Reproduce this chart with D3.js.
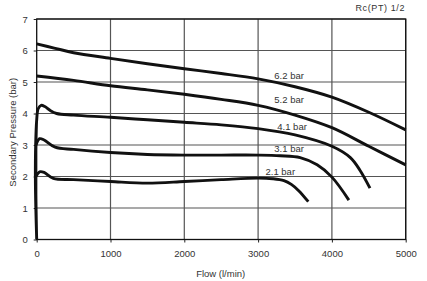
<!DOCTYPE html>
<html>
<head>
<meta charset="utf-8">
<script src="https://cdn.jsdelivr.net/npm/d3@7"></script>
<style>
  body { margin: 0; background: #fff; }
  svg text { font-family: "Liberation Sans", Arial, sans-serif; fill: #333; }
</style>
</head>
<body>
<div id="chart"></div>
<script>
// curves: [flow (l/min), secondary pressure (bar)]
const curve62 = [[0, 6.21], [250, 6.07], [500, 5.93], [1000, 5.75], [1500, 5.58], [2000, 5.42], [2500, 5.27],
  [3000, 5.1], [3500, 4.85], [4000, 4.52], [4500, 4.04], [5000, 3.48]];
const curve52 = [[0, 5.19], [500, 5.05], [1000, 4.88], [1500, 4.75], [2000, 4.61], [2500, 4.45], [3000, 4.26],
  [3500, 3.95], [4000, 3.55], [4500, 2.96], [5000, 2.37]];
const curve41 = [[0, 0], [-12, 1], [-18, 2], [-14, 3], [0, 3.8], [20, 4.15], [60, 4.26], [110, 4.22], [180, 4.1],
  [270, 4.0], [500, 3.95], [1000, 3.88], [1500, 3.8], [2000, 3.72], [2500, 3.64], [3000, 3.52], [3500, 3.32],
  [4000, 2.96], [4250, 2.6], [4380, 2.2], [4516, 1.63]];
const curve31 = [[-10, 3.0], [40, 3.2], [100, 3.16], [250, 2.93], [500, 2.86], [1000, 2.76], [1500, 2.7],
  [2000, 2.68], [2500, 2.68], [3000, 2.68], [3300, 2.66], [3570, 2.6], [3800, 2.37], [4000, 1.98], [4230, 1.25]];
const curve21 = [[-12, 2.0], [40, 2.15], [100, 2.13], [225, 1.94], [500, 1.9], [1000, 1.84], [1500, 1.79],
  [2000, 1.84], [2500, 1.9], [3000, 1.95], [3200, 1.93], [3350, 1.87], [3450, 1.75], [3550, 1.55], [3680, 1.2]];

const curveLabels = ['6.2 bar', '5.2 bar', '4.1 bar', '3.1 bar', '2.1 bar'];
// where each label sits, in data units
const labelPos = [[3220, 5.11], [3220, 4.32], [3260, 3.49], [3220, 2.79], [3100, 2.04]];

const xTicks = [0, 1000, 2000, 3000, 4000, 5000];
const yTicks = [0, 1, 2, 3, 4, 5, 6, 7];

const W = 427, H = 281;
const margin = { top: 19, right: 21.3, bottom: 41.5, left: 36.7 };
const width = W - margin.left - margin.right;
const height = H - margin.top - margin.bottom;

const svg = d3.select('#chart').append('svg')
  .attr('width', W)
  .attr('height', H);

const g = svg.append('g')
  .attr('transform', `translate(${margin.left}, ${margin.top})`);

const x = d3.scaleLinear().domain([0, 5000]).range([0, width]);
const y = d3.scaleLinear().domain([0, 7]).range([height, 0]);

// grid
g.append('g')
  .selectAll('line')
  .data(yTicks.slice(1))
  .enter()
  .append('line')
  .attr('x1', 0).attr('x2', width)
  .attr('y1', d => y(d)).attr('y2', d => y(d))
  .attr('stroke', '#555')
  .attr('stroke-width', 1.2);

g.append('g')
  .selectAll('line')
  .data(xTicks.slice(1))
  .enter()
  .append('line')
  .attr('y1', 0).attr('y2', height)
  .attr('x1', d => x(d)).attr('x2', d => x(d))
  .attr('stroke', '#555')
  .attr('stroke-width', 1.2);

// axes
const yAxis = g.append('g')
  .call(d3.axisLeft(y).tickValues(yTicks).tickSize(3).tickPadding(6).tickFormat(d3.format('d')));
const xAxis = g.append('g')
  .attr('transform', `translate(0, ${height})`)
  .call(d3.axisBottom(x).tickValues(xTicks).tickSize(3).tickPadding(8).tickFormat(d3.format('d')));

[yAxis, xAxis].forEach(a => {
  a.select('.domain').remove();
  a.selectAll('line').attr('stroke', '#222');
  a.selectAll('text').attr('font-size', '9.5px').style('fill', '#333');
});

// frame
g.append('rect')
  .attr('width', width)
  .attr('height', height)
  .attr('fill', 'none')
  .attr('stroke', '#111')
  .attr('stroke-width', 1.3);

// curves
const line = d3.line()
  .x(d => x(d[0]))
  .y(d => y(d[1]))
  .curve(d3.curveCatmullRom.alpha(0.5));

[curve62, curve52, curve41, curve31, curve21].forEach(c => {
  g.append('path')
    .datum(c)
    .attr('d', line)
    .attr('fill', 'none')
    .attr('stroke', '#111')
    .attr('stroke-width', 2.9)
    .attr('stroke-linecap', 'butt')
    .attr('stroke-linejoin', 'round');
});

// curve labels
g.selectAll('.clabel')
  .data(curveLabels)
  .enter()
  .append('text')
  .attr('class', 'clabel')
  .attr('x', (d, i) => x(labelPos[i][0]))
  .attr('y', (d, i) => y(labelPos[i][1]))
  .attr('font-size', '9.5px')
  .text(d => d);

// titles
svg.append('text')
  .attr('transform', `translate(16, ${margin.top + height / 2 + 3}) rotate(-90)`)
  .attr('text-anchor', 'middle')
  .attr('font-size', '9.5px')
  .text('Secondary Pressure (bar)');

svg.append('text')
  .attr('x', margin.left + width / 2 - 0.5)
  .attr('y', 276.5)
  .attr('text-anchor', 'middle')
  .attr('font-size', '9.5px')
  .text('Flow (l/min)');

svg.append('text')
  .attr('x', 405)
  .attr('y', 10.5)
  .attr('text-anchor', 'end')
  .attr('font-size', '9px')
  .style('letter-spacing', '0.6px')
  .text('Rc(PT) 1/2');
</script>
</body>
</html>
